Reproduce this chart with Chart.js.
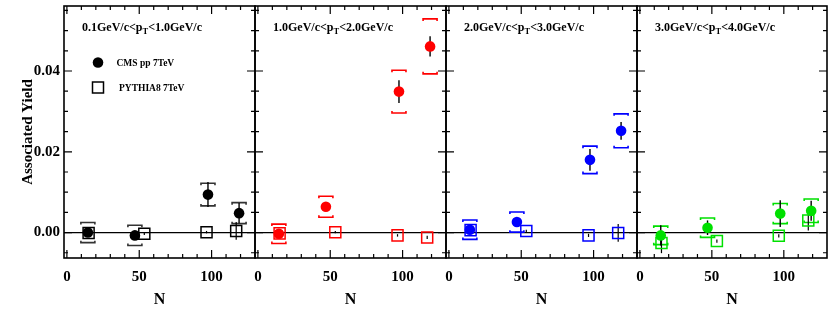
<!DOCTYPE html>
<html lang="en">
<head>
<meta charset="UTF-8">
<title>Associated Yield vs N</title>
<script src="https://cdn.jsdelivr.net/npm/chart.js"></script>
<style>
  body { margin: 0; background: #fff; }
  #wrap { position: relative; width: 830px; height: 328px; }
  #wrap canvas { position: absolute; left: 0; top: 0; }
</style>
</head>
<body>
<div id="wrap">
  <canvas id="p0" width="830" height="328"></canvas>
  <canvas id="p1" width="830" height="328"></canvas>
  <canvas id="p2" width="830" height="328"></canvas>
  <canvas id="p3" width="830" height="328"></canvas>
</div>

<script>
// ---- data ----
const ptLow = ['0.1', '1.0', '2.0', '3.0'];
const ptHigh = ['1.0', '2.0', '3.0', '4.0'];
const xTicks = [0, 50, 100];
const yTicks = [0, 0.02, 0.04];

const cmsN = [14.5, 47, 97.5, 119];
const pythiaN = [15, 53.5, 96.5, 117];

// one row per pT bin
const cmsYield = [
  [0.0000, -0.0007, 0.0094, 0.0048],
  [-0.0003, 0.0064, 0.0349, 0.0461],
  [0.0007, 0.0026, 0.0180, 0.0252],
  [-0.0007, 0.0012, 0.0047, 0.0054]
];
const cmsStat = [
  [0.0005, 0.0005, 0.0031, 0.0025],
  [0.0005, 0.0008, 0.0028, 0.0025],
  [0.0005, 0.0008, 0.0027, 0.0022],
  [0.0025, 0.0018, 0.0033, 0.0025]
];
const cmsSys = [
  [0.0025, 0.0025, 0.0028, 0.0026],
  [0.0024, 0.0026, 0.0053, 0.0068],
  [0.0024, 0.0025, 0.0034, 0.0042],
  [0.0023, 0.0024, 0.0025, 0.0029]
];
const pythiaYield = [
  [-0.0001, -0.0003, 0.0001, 0.0004],
  [-0.0002, 0.0001, -0.0007, -0.0012],
  [0.0006, 0.0004, -0.0007, -0.0001],
  [-0.0026, -0.0021, -0.0008, 0.0030]
];
const pythiaErr = [
  [0.0003, 0.0003, 0.0003, 0.0022],
  [0.0003, 0.0003, 0.0003, 0.0004],
  [0.0003, 0.0003, 0.0004, 0.0022],
  [0.0025, 0.0004, 0.0004, 0.0025]
];

// ---- style / layout ----
const FONT = "'Liberation Serif', 'Times New Roman', serif";
const panelEdges = [64, 255, 446, 637, 827];
const colors = ['#000000', '#ff0000', '#0000ff', '#00e000'];
const capColors = ['#333333', '#ff0000', '#0000ff', '#00e000'];

function vline(ctx, x, y1, y2) {
  ctx.beginPath(); ctx.moveTo(x, y1); ctx.lineTo(x, y2); ctx.stroke();
}

// error bars + zero line under the markers, frame/ticks/labels on top
const panelDecor = {
  id: 'panelDecor',
  beforeDatasetsDraw(chart, args, opts) {
    const i = opts.idx;
    const { ctx, chartArea: a, scales: { x, y } } = chart;
    ctx.save();
    ctx.lineCap = 'butt';

    // zero line
    ctx.strokeStyle = '#000';
    ctx.lineWidth = 1.3;
    const y0 = y.getPixelForValue(0);
    ctx.beginPath(); ctx.moveTo(a.left, y0); ctx.lineTo(a.right, y0); ctx.stroke();

    cmsN.forEach((n, k) => {
      const px = x.getPixelForValue(n);
      const v = cmsYield[i][k];
      // systematic brackets
      ctx.strokeStyle = capColors[i];
      ctx.lineWidth = 1.6;
      [[v + cmsSys[i][k], 1], [v - cmsSys[i][k], -1]].forEach(([val, dir]) => {
        const py = y.getPixelForValue(val);
        ctx.beginPath();
        ctx.moveTo(px - 7, py + 2 * dir);
        ctx.lineTo(px - 7, py);
        ctx.lineTo(px + 7, py);
        ctx.lineTo(px + 7, py + 2 * dir);
        ctx.stroke();
      });
      // statistical
      ctx.strokeStyle = '#000';
      ctx.lineWidth = 1.4;
      vline(ctx, px, y.getPixelForValue(v + cmsStat[i][k]), y.getPixelForValue(v - cmsStat[i][k]));
    });

    pythiaN.forEach((n, k) => {
      const px = x.getPixelForValue(n);
      const v = pythiaYield[i][k];
      ctx.strokeStyle = '#000';
      ctx.lineWidth = 1.2;
      vline(ctx, px, y.getPixelForValue(v + pythiaErr[i][k]), y.getPixelForValue(v - pythiaErr[i][k]));
    });
    ctx.restore();
  },
  afterDraw(chart, args, opts) {
    const i = opts.idx;
    const { ctx, chartArea: a, scales: { x, y } } = chart;
    ctx.save();

    // inward ticks, left + right
    ctx.strokeStyle = '#000';
    ctx.lineWidth = 1.2;
    for (let k = -1; k <= 11; k++) {
      const py = y.getPixelForValue(k * 0.005);
      const len = k % 4 === 0 ? 8 : 4;
      ctx.beginPath();
      ctx.moveTo(a.left, py); ctx.lineTo(a.left + len, py);
      ctx.moveTo(a.right, py); ctx.lineTo(a.right - len, py);
      ctx.stroke();
    }
    // inward ticks, bottom + top
    for (let k = 0; k <= 12; k++) {
      const px = x.getPixelForValue(k * 10);
      const len = k % 5 === 0 ? 8 : 4;
      vline(ctx, px, a.bottom, a.bottom - len);
      vline(ctx, px, a.top, a.top + len);
    }

    // frame
    ctx.lineWidth = 1.6;
    ctx.strokeRect(a.left, a.top, a.right - a.left, a.bottom - a.top);

    // pT bin label
    ctx.fillStyle = '#000';
    ctx.textBaseline = 'alphabetic';
    let tx = a.left + 18;
    const ty = 31;
    ctx.font = `bold 12px ${FONT}`;
    const s1 = `${ptLow[i]}GeV/c<p`;
    ctx.fillText(s1, tx, ty);
    tx += ctx.measureText(s1).width;
    ctx.font = `bold 8.5px ${FONT}`;
    ctx.fillText('T', tx, ty + 3);
    tx += ctx.measureText('T').width;
    ctx.font = `bold 12px ${FONT}`;
    ctx.fillText(`<${ptHigh[i]}GeV/c`, tx, ty);

    // legend in first panel
    if (i === 0) {
      ctx.fillStyle = '#000';
      ctx.beginPath(); ctx.arc(98, 62.5, 5.3, 0, Math.PI * 2); ctx.fill();
      ctx.lineWidth = 1.5;
      ctx.strokeRect(92.5, 82, 11, 11);
      ctx.font = `bold 9.5px ${FONT}`;
      ctx.fillText(chart.data.datasets[1].label, 116.5, 65.5);
      ctx.fillText(chart.data.datasets[0].label, 119, 90.5);
    }
    ctx.restore();
  }
};

function makePanel(i) {
  const first = i === 0;
  const tickFont = { family: FONT, size: 15, weight: 'bold' };
  return new Chart(document.getElementById('p' + i), {
    type: 'scatter',
    data: {
      datasets: [
        {
          label: 'PYTHIA8 7TeV',
          data: pythiaN.map((n, k) => ({ x: n, y: pythiaYield[i][k] })),
          pointStyle: 'rect',
          pointRadius: 7.8,
          borderWidth: 1.5,
          borderColor: colors[i],
          backgroundColor: 'rgba(0,0,0,0)'
        },
        {
          label: 'CMS pp 7TeV',
          data: cmsN.map((n, k) => ({ x: n, y: cmsYield[i][k] })),
          pointStyle: 'circle',
          pointRadius: 5.3,
          borderWidth: 0,
          borderColor: colors[i],
          backgroundColor: colors[i]
        }
      ]
    },
    options: {
      responsive: false,
      animation: false,
      events: [],
      layout: {
        autoPadding: false,
        padding: { left: first ? 0 : panelEdges[i], right: 830 - panelEdges[i + 1], top: 6, bottom: 0 }
      },
      plugins: {
        legend: { display: false },
        tooltip: { enabled: false },
        panelDecor: { idx: i }
      },
      scales: {
        x: {
          type: 'linear',
          min: -2,
          max: 130,
          grid: { display: false, drawTicks: false },
          border: { display: false },
          afterBuildTicks: s => { s.ticks = xTicks.map(v => ({ value: v })); },
          afterFit: s => { s.height = 70; s.paddingLeft = 0; s.paddingRight = 0; },
          ticks: { padding: 10, color: '#000', font: tickFont, maxRotation: 0 },
          title: {
            display: true, text: 'N', color: '#000',
            font: { family: FONT, size: 16, weight: 'bold' },
            padding: { top: 0, bottom: 19 }
          }
        },
        y: {
          type: 'linear',
          display: first,
          min: -0.0063,
          max: 0.0561,
          grid: { display: false, drawTicks: false },
          border: { display: false },
          afterBuildTicks: s => { s.ticks = yTicks.map(v => ({ value: v })); },
          afterFit: s => { s.width = first ? 64 : 0; s.paddingTop = 0; s.paddingBottom = 0; },
          ticks: { padding: 4, color: '#000', font: tickFont, callback: v => v.toFixed(2) },
          title: {
            display: true, text: 'Associated Yield', color: '#000',
            font: { family: FONT, size: 15, weight: 'bold' },
            padding: { top: 19, bottom: 0 }
          }
        }
      }
    },
    plugins: [panelDecor]
  });
}

[0, 1, 2, 3].forEach(makePanel);
</script>
</body>
</html>
